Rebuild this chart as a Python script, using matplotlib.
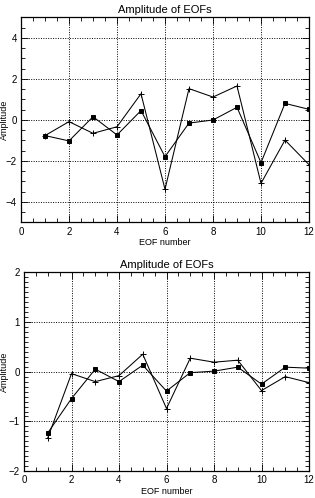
import matplotlib
matplotlib.use("Agg")
import matplotlib.pyplot as plt
from matplotlib.ticker import MultipleLocator

plt.rcParams['font.family'] = ['Liberation Sans', 'DejaVu Sans']

eof = [1, 2, 3, 4, 5, 6, 7, 8, 9, 10, 11, 12]
top_plus = [-0.76, -0.08, -0.65, -0.33, 1.28, -3.38, 1.53, 1.12, 1.66, -3.09, -0.98, -2.18]
top_sq = [-0.76, -1.02, 0.16, -0.73, 0.46, -1.79, -0.15, 0.0, 0.62, -2.08, 0.81, 0.52]
bot_plus = [-1.33, -0.04, -0.20, -0.08, 0.35, -0.74, 0.27, 0.19, 0.23, -0.38, -0.10, -0.22]
bot_sq = [-1.23, -0.54, 0.05, -0.20, 0.13, -0.39, -0.02, 0.01, 0.09, -0.25, 0.09, 0.07]

title = "Amplitude of EOFs"
xlab = "EOF number"
ylab = "Amplitude"

W, H = 315, 498
fig = plt.figure(figsize=(W / 100, H / 100), dpi=100)

def px_ax(l, r, t, b):
    return fig.add_axes([l / W, 1 - b / H, (r - l) / W, (b - t) / H])

def style(ax, ylim, ymaj, ymin):
    ax.set_xlim(0, 12)
    ax.set_ylim(*ylim)
    ax.xaxis.set_major_locator(MultipleLocator(2))
    ax.xaxis.set_minor_locator(MultipleLocator(0.5))
    ax.yaxis.set_major_locator(MultipleLocator(ymaj))
    ax.yaxis.set_minor_locator(MultipleLocator(ymin))
    ax.tick_params(which='both', direction='in', top=True, right=True,
                   labelsize=7, colors='black', width=0.6, pad=3)
    ax.tick_params(which='major', length=5)
    ax.tick_params(which='minor', length=3)
    ax.grid(True, which='major', linestyle=(0, (1, 1.5)), color='black', linewidth=0.7)
    for s in ax.spines.values():
        s.set_linewidth(0.9)
    ax.set_title(title, fontsize=8, pad=3)
    ax.set_xlabel(xlab, fontsize=6.5, labelpad=1)

ax1 = px_ax(21, 309, 17.5, 222.5)
ax1.plot(eof, top_plus, color='black', lw=0.75, marker='+', ms=4, mew=0.7)
ax1.plot(eof, top_sq, color='black', lw=0.75, marker='s', ms=2.5, mew=0.7)
style(ax1, (-5, 5), 2, 0.5)
fig.text(4.5 / W, 1 - 120 / H, ylab, rotation=90, fontsize=6.5, ha='center', va='center')

ax2 = px_ax(24, 309, 272, 471.3)
ax2.plot(eof, bot_plus, color='black', lw=0.75, marker='+', ms=4, mew=0.7)
ax2.plot(eof, bot_sq, color='black', lw=0.75, marker='s', ms=2.5, mew=0.7)
style(ax2, (-2, 2), 1, 0.1)
fig.text(4.5 / W, 1 - 372 / H, ylab, rotation=90, fontsize=6.5, ha='center', va='center')

fig.savefig("out.png", dpi=100)
